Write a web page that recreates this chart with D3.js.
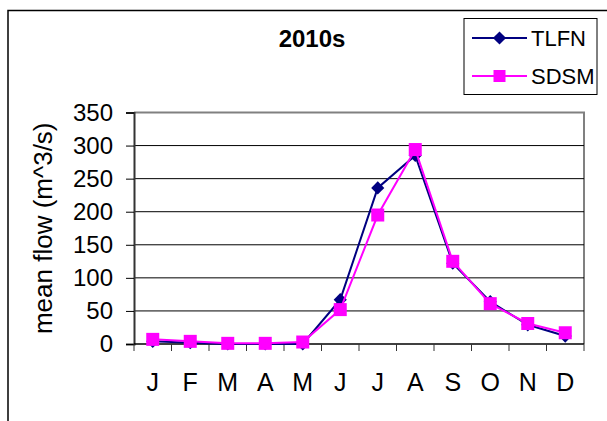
<!DOCTYPE html>
<html>
<head>
<meta charset="utf-8">
<script src="https://cdn.jsdelivr.net/npm/d3@7"></script>
<style>
  html, body { margin: 0; padding: 0; background: #fff; }
  svg { display: block; font-family: "Liberation Sans", Arial, sans-serif; }
</style>
</head>
<body>
<svg id="chart" width="607" height="421"></svg>
<script>
// Monthly mean flow for the 2010s: TLFN vs SDSM
const months = ["J", "F", "M", "A", "M", "J", "J", "A", "S", "O", "N", "D"];
const tlfn = [4, 2, 0, 0, 0, 67, 236, 285, 122, 64, 29, 12];
const sdsm = [7, 4, 1, 1, 3, 52, 195, 294, 125, 61, 31, 17];
const yTicks = [0, 50, 100, 150, 200, 250, 300, 350];
const seriesNames = ["TLFN", "SDSM"];

const svg = d3.select("#chart");
const W = 607, H = 421;
const plot = { left: 134, right: 584, top: 112.5, bottom: 344 };

// Outer chart frame (runs past the right and bottom edges)
svg.append("rect")
  .attr("x", 8).attr("y", 10.5)
  .attr("width", W).attr("height", H)
  .attr("fill", "none").attr("stroke", "#000").attr("stroke-width", 1.5);

const x = d3.scaleBand().domain(d3.range(months.length))
  .range([plot.left, plot.right]).paddingInner(0).paddingOuter(0);
const y = d3.scaleLinear().domain([0, 350]).range([plot.bottom, plot.top]);

// Plot-area border (grey top and right)
svg.append("path")
  .attr("d", `M${plot.left},${plot.top}H${plot.right}V${plot.bottom}`)
  .attr("fill", "none").attr("stroke", "#808080").attr("stroke-width", 2);

// Horizontal gridlines
svg.append("g").selectAll("line")
  .data(yTicks.filter(t => t > 0 && t < 350))
  .join("line")
  .attr("x1", plot.left).attr("x2", plot.right)
  .attr("y1", d => y(d)).attr("y2", d => y(d))
  .attr("stroke", "#000").attr("stroke-width", 1);

// Y axis
const yAxis = svg.append("g")
  .attr("transform", `translate(${plot.left},0)`)
  .call(d3.axisLeft(y).tickValues(yTicks).tickSize(8).tickPadding(13));
yAxis.select(".domain").attr("stroke", "#333").attr("stroke-width", 2);
yAxis.selectAll(".tick line").attr("stroke", "#000");
yAxis.selectAll("text")
  .attr("font-size", 24).attr("fill", "#000")
  .attr("font-family", "Liberation Sans, Arial, sans-serif");

// X axis with ticks at month boundaries
const xAxis = svg.append("g")
  .attr("transform", `translate(0,${plot.bottom})`);
const bounds = d3.range(months.length + 1).map(i => plot.left + i * x.bandwidth());
xAxis.append("line")
  .attr("x1", plot.left).attr("x2", plot.right)
  .attr("stroke", "#000").attr("stroke-width", 1.5);
xAxis.selectAll("line.tick")
  .data(bounds).join("line").attr("class", "tick")
  .attr("x1", d => d).attr("x2", d => d)
  .attr("y1", 0).attr("y2", 7)
  .attr("stroke", "#333").attr("stroke-width", 1);
xAxis.selectAll("text")
  .data(months).join("text")
  .attr("x", (d, i) => x(i) + x.bandwidth() / 2)
  .attr("y", 47)
  .attr("text-anchor", "middle")
  .attr("font-size", 25).attr("fill", "#000")
  .text(d => d);

// Axis title
svg.append("text")
  .attr("transform", `translate(52,${(plot.top + plot.bottom) / 2}) rotate(-90)`)
  .attr("text-anchor", "middle")
  .attr("font-size", 26).attr("fill", "#000")
  .text("mean flow (m^3/s)");

// Chart title
svg.append("text")
  .attr("x", 312).attr("y", 47)
  .attr("text-anchor", "middle")
  .attr("font-size", 24).attr("font-weight", "bold").attr("fill", "#000")
  .text("2010s");

const cx = i => x(i) + x.bandwidth() / 2;
const line = d3.line().x((d, i) => cx(i)).y(d => y(d));

const colors = { TLFN: "#000080", SDSM: "#FF00FF" };

// TLFN series (diamonds)
svg.append("path").datum(tlfn)
  .attr("d", line).attr("fill", "none")
  .attr("stroke", colors.TLFN).attr("stroke-width", 2);
svg.append("g").selectAll("path")
  .data(tlfn).join("path")
  .attr("transform", (d, i) => `translate(${cx(i)},${y(d)})`)
  .attr("d", d3.symbol(d3.symbolDiamond2, 110))
  .attr("fill", colors.TLFN);

// SDSM series (squares)
svg.append("path").datum(sdsm)
  .attr("d", line).attr("fill", "none")
  .attr("stroke", colors.SDSM).attr("stroke-width", 2);
svg.append("g").selectAll("rect")
  .data(sdsm).join("rect")
  .attr("x", (d, i) => cx(i) - 6.5).attr("y", d => y(d) - 6.5)
  .attr("width", 13).attr("height", 13)
  .attr("fill", colors.SDSM);

// Legend
const legend = svg.append("g");
legend.append("rect")
  .attr("x", 464).attr("y", 18.5).attr("width", 133).attr("height", 76)
  .attr("fill", "#fff").attr("stroke", "#000").attr("stroke-width", 1);
const legendRows = legend.selectAll("g.row")
  .data(seriesNames).join("g").attr("class", "row")
  .attr("transform", (d, i) => `translate(0,${38 + i * 38})`);
legendRows.append("line")
  .attr("x1", 472).attr("x2", 527)
  .attr("stroke", d => colors[d]).attr("stroke-width", 2);
legendRows.filter(d => d === "TLFN").append("path")
  .attr("transform", "translate(499.5,0)")
  .attr("d", d3.symbol(d3.symbolDiamond2, 110))
  .attr("fill", colors.TLFN);
legendRows.filter(d => d === "SDSM").append("rect")
  .attr("x", 493.5).attr("y", -6).attr("width", 12).attr("height", 12)
  .attr("fill", colors.SDSM);
legendRows.append("text")
  .attr("x", 531).attr("y", 8)
  .attr("font-size", 22).attr("fill", "#000")
  .text(d => d);
</script>
</body>
</html>
